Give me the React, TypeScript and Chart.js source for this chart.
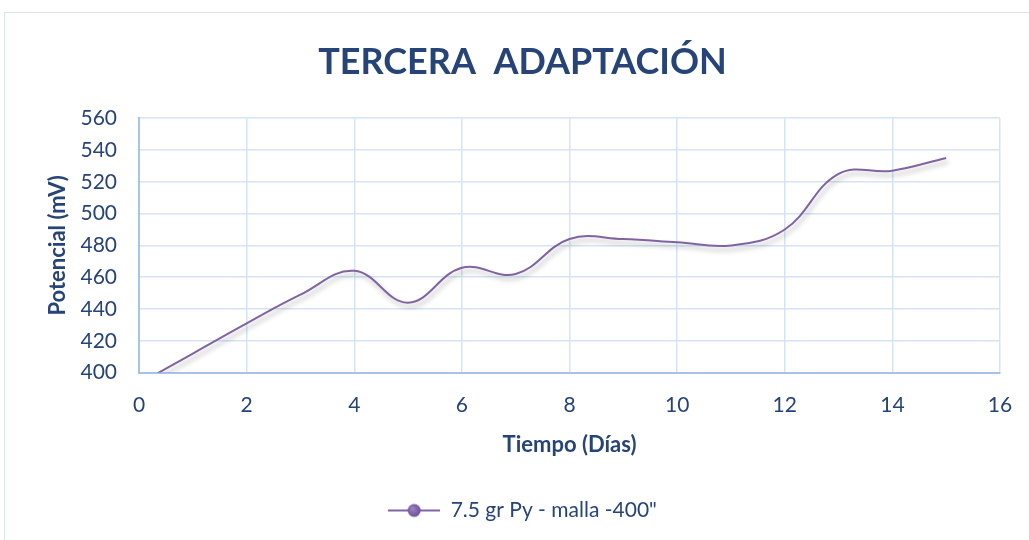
import React, { useEffect, useRef } from "react";
import { Chart, registerables } from "chart.js";

Chart.register(...registerables);

const days = [0, 1, 2, 3, 4, 5, 6, 7, 8, 9, 10, 11, 12, 13, 14, 15];
const potential = [393, 412, 431, 449, 464, 444, 466, 462, 484, 484, 482, 480, 490, 525, 527, 535];

const seriesLabel = '7.5 gr Py - malla -400"';
const titleText = "TERCERA  ADAPTACIÓN";
const xTitle = "Tiempo (Días)";
const yTitle = "Potencial (mV)";
const xRange = [0, 16, 2];
const yRange = [400, 560, 20];

const TEXT = "#264478";
const LINE = "#8064A2";
const FONT = "Lato, 'Open Sans', sans-serif";

function makeLegendImage(): HTMLCanvasElement {
  const c = document.createElement("canvas");
  c.width = 52;
  c.height = 16;
  const g = c.getContext("2d")!;
  g.strokeStyle = LINE;
  g.lineWidth = 2;
  g.beginPath();
  g.moveTo(0, 8);
  g.lineTo(52, 8);
  g.stroke();
  const grad = g.createRadialGradient(24, 6, 1, 26, 8, 7);
  grad.addColorStop(0, "#9A80C0");
  grad.addColorStop(1, "#6A4C98");
  g.fillStyle = grad;
  g.beginPath();
  g.arc(26, 8, 6.5, 0, Math.PI * 2);
  g.fill();
  return c;
}

const shadowPlugin = {
  id: "lineShadow",
  beforeDatasetsDraw(chart: any) {
    const ctx = chart.ctx;
    ctx.save();
    ctx.shadowColor = "rgba(0,0,0,0.28)";
    ctx.shadowBlur = 5;
    ctx.shadowOffsetX = 2;
    ctx.shadowOffsetY = 4;
  },
  afterDatasetsDraw(chart: any) {
    chart.ctx.restore();
  },
};

export default function App() {
  const ref = useRef<HTMLCanvasElement | null>(null);

  useEffect(() => {
    if (!ref.current) return;
    const legendImg = makeLegendImage();
    const chart = new Chart(ref.current, {
      type: "line",
      data: {
        datasets: [
          {
            label: seriesLabel,
            data: days.map((d, i) => ({ x: d, y: potential[i] })),
            borderColor: LINE,
            backgroundColor: LINE,
            borderWidth: 2,
            pointRadius: 0,
            tension: 0.4,
            fill: false,
          },
        ],
      },
      plugins: [shadowPlugin],
      options: {
        animation: false,
        responsive: false,
        layout: { padding: { left: 45, right: 56, top: 0, bottom: 9 } },
        plugins: {
          title: {
            display: true,
            text: titleText,
            color: TEXT,
            font: { family: FONT, size: 36, weight: "bold", lineHeight: 1.2 },
            padding: { top: 41, bottom: 34 },
          },
          legend: {
            position: "bottom",
            labels: {
              usePointStyle: true,
              pointStyleWidth: 52,
              color: TEXT,
              font: { family: FONT, size: 21 },
              padding: 10,
              generateLabels: () => [
                {
                  text: seriesLabel,
                  pointStyle: legendImg as any,
                  fillStyle: LINE,
                  strokeStyle: LINE,
                  lineWidth: 0,
                  hidden: false,
                  datasetIndex: 0,
                  fontColor: TEXT,
                } as any,
              ],
            },
          },
          tooltip: { enabled: false },
        },
        scales: {
          x: {
            type: "linear",
            min: xRange[0],
            max: xRange[1],
            ticks: { stepSize: xRange[2], color: TEXT, font: { family: FONT, size: 21 }, padding: 20 },
            grid: { color: "#D5E3F4", lineWidth: 1.5, drawTicks: false },
            border: { color: "#A7C4E8", width: 2 },
            title: {
              display: true,
              text: xTitle,
              color: TEXT,
              font: { family: FONT, size: 22, weight: "bold", lineHeight: 0.6 },
              padding: { top: 1, bottom: 38 },
            },
          },
          y: {
            type: "linear",
            min: yRange[0],
            max: yRange[1],
            ticks: { stepSize: yRange[2], color: TEXT, font: { family: FONT, size: 21 }, padding: 22 },
            grid: { color: "#D5E3F4", lineWidth: 1.5, drawTicks: false },
            border: { color: "#A7C4E8", width: 2 },
            title: {
              display: true,
              text: yTitle,
              color: TEXT,
              font: { family: FONT, size: 22, weight: "bold" },
              padding: { top: 0, bottom: 2 },
            },
            afterFit: (scale: any) => {
              scale.width = 94;
            },
          },
        },
      },
    });
    return () => chart.destroy();
  }, []);

  return (
    <div style={{ position: "fixed", left: 0, top: 0, width: 1029, height: 540, overflow: "hidden", background: "#fff" }}>
      <div
        style={{
          position: "absolute",
          left: 4,
          top: 12,
          width: 1060,
          height: 560,
          border: "1px solid #D9E4F2",
          boxSizing: "border-box",
        }}
      />
      <canvas ref={ref} width={1056} height={540} style={{ position: "absolute", left: 0, top: 0 }} />
    </div>
  );
}
